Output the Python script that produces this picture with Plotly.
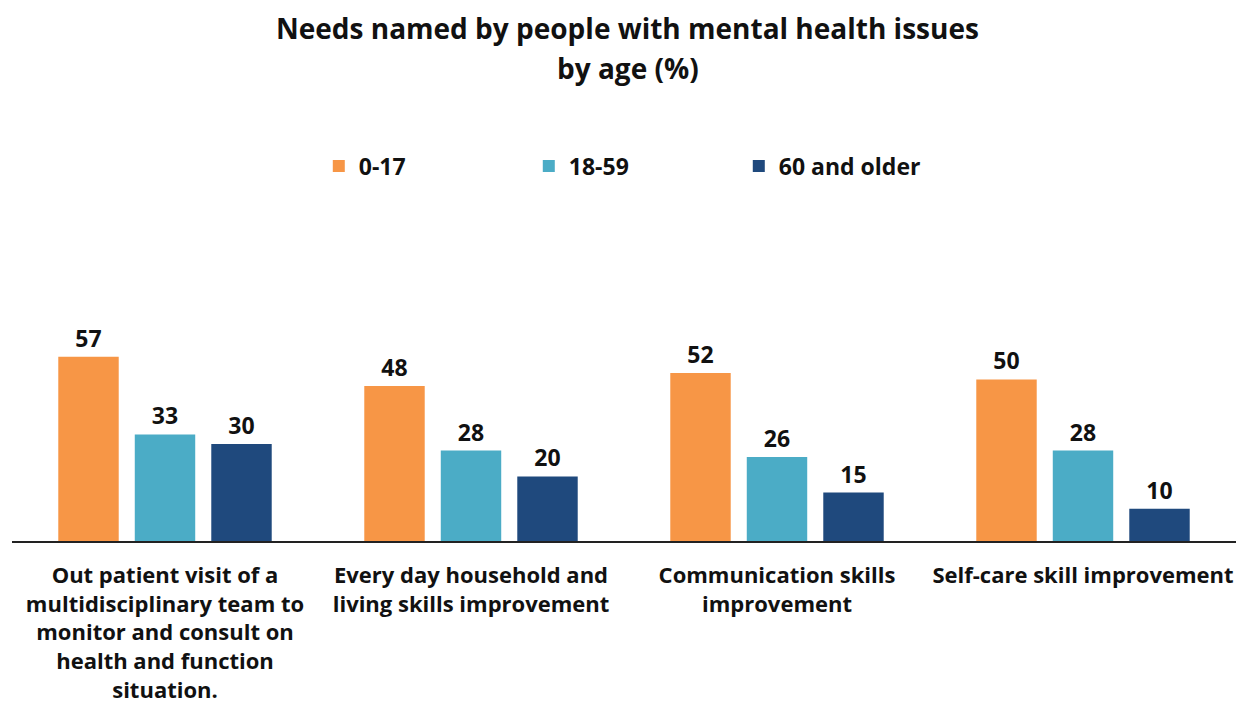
import plotly.graph_objects as go

categories = [
    "Out patient visit of a<br>multidisciplinary team to<br>monitor and consult on<br>health and function<br>situation.",
    "Every day household and<br>living skills improvement",
    "Communication skills<br>improvement",
    "Self-care skill improvement",
]
age_groups = ["0-17", "18-59", "60 and older"]
values_0_17 = [57, 48, 52, 50]
values_18_59 = [33, 28, 26, 28]
values_60_plus = [30, 20, 15, 10]
colors = ["#F79646", "#4BACC6", "#1F497D"]
title_lines = ["Needs named by people with mental health issues", "by age (%)"]

FONT = "Open Sans"
INK = "#111111"

fig = go.Figure()
for name, vals, col in zip(age_groups, [values_0_17, values_18_59, values_60_plus], colors):
    fig.add_trace(go.Bar(
        x=categories, y=vals, name=name,
        marker=dict(color=col, line=dict(width=0)),
        text=vals, texttemplate="<b>%{text}</b>", textposition="outside",
        textfont=dict(family=FONT, size=23, color=INK),
        cliponaxis=False,
    ))

# two-line heading, placed above the legend
for line, ypos in zip(title_lines, [2.443, 2.252]):
    fig.add_annotation(
        text=f"<b>{line}</b>", xref="paper", yref="paper",
        x=0.503, y=ypos, xanchor="center", yanchor="middle",
        showarrow=False, font=dict(family=FONT, size=28, color=INK),
    )

fig.update_layout(
    width=1240, height=702,
    paper_bgcolor="white", plot_bgcolor="white",
    margin=dict(l=12, r=4, t=331, b=161),
    barmode="group", bargap=0.25, bargroupgap=0.21,
    font=dict(family=FONT, color=INK),
    legend=dict(
        orientation="h", x=0.508, xanchor="center", y=1.786, yanchor="middle",
        font=dict(family=FONT, size=23, color=INK, weight="bold"),
        entrywidth=165, traceorder="normal",
    ),
    xaxis=dict(
        showline=True, linecolor="#222222", linewidth=1.5,
        ticks="", showgrid=False, ticklabelstandoff=14, automargin=False,
        tickfont=dict(family=FONT, size=22, color=INK, weight="bold"),
    ),
    yaxis=dict(range=[0, 65], visible=False, showgrid=False),
)

fig.write_html("out.html")
